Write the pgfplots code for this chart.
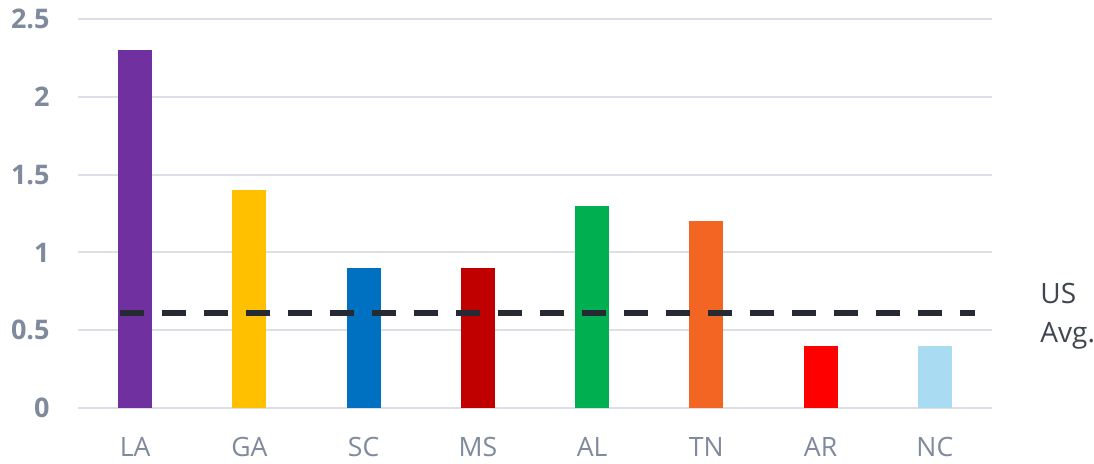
\documentclass[border=0pt]{standalone}
\usepackage{pgfplots}
\pgfplotsset{compat=1.18}
\usepackage{fontspec}
\setmainfont{Open Sans}
\definecolor{cLA}{HTML}{7030A0}
\definecolor{cGA}{HTML}{FFC000}
\definecolor{cSC}{HTML}{0070C0}
\definecolor{cMS}{HTML}{C00000}
\definecolor{cAL}{HTML}{00B050}
\definecolor{cTN}{HTML}{F26522}
\definecolor{cAR}{HTML}{FF0000}
\definecolor{cNC}{HTML}{A9DCF2}
\definecolor{tickgray}{HTML}{7F8A9C}
\definecolor{gridgray}{HTML}{DCE0E6}
\definecolor{txtgray}{HTML}{404650}
\definecolor{dashc}{HTML}{262A33}
\begin{document}
\begin{tikzpicture}
\path[use as bounding box] (0,0) rectangle (547pt,231.5pt);
\begin{axis}[
  at={(39pt,27.5pt)}, anchor=south west,
  scale only axis, width=457pt, height=194.5pt,
  xmin=-0.5, xmax=7.5, ymin=0, ymax=2.5,
  ytick={0,0.5,1,1.5,2,2.5},
  xtick={0,1,2,3,4,5,6,7},
  xticklabels={LA,GA,SC,MS,AL,TN,AR,NC},
  axis line style={draw=none},
  major tick length=0pt,
  ymajorgrids, grid style={gridgray, line width=1pt},
  /pgf/number format/assume math mode=true,
  yticklabel style={font=\bfseries\fontsize{13.5}{13.5}\selectfont, text=tickgray, inner sep=0pt, xshift=-14pt},
  xticklabel style={font=\fontsize{13.3}{13.3}\selectfont, text=tickgray, inner sep=0pt, anchor=north, yshift=-14.5pt},
  clip=false,
]
\addplot[ybar, bar width=17pt, fill=cLA, draw=none] coordinates {(0,2.3)};
\addplot[ybar, bar width=17pt, fill=cGA, draw=none] coordinates {(1,1.4)};
\addplot[ybar, bar width=17pt, fill=cSC, draw=none] coordinates {(2,0.9)};
\addplot[ybar, bar width=17pt, fill=cMS, draw=none] coordinates {(3,0.9)};
\addplot[ybar, bar width=17pt, fill=cAL, draw=none] coordinates {(4,1.3)};
\addplot[ybar, bar width=17pt, fill=cTN, draw=none] coordinates {(5,1.2)};
\addplot[ybar, bar width=17pt, fill=cAR, draw=none] coordinates {(6,0.4)};
\addplot[ybar, bar width=17pt, fill=cNC, draw=none] coordinates {(7,0.4)};
\addplot[dashc, line width=3pt, dash pattern=on 12pt off 9pt] coordinates {(-0.13,0.61) (7.35,0.61)};
\end{axis}
\node[anchor=north west, align=left, inner sep=0pt, text=txtgray, font=\fontsize{14}{19.5}\selectfont] at (520pt,90pt) {US\\Avg.};
\end{tikzpicture}
\end{document}
